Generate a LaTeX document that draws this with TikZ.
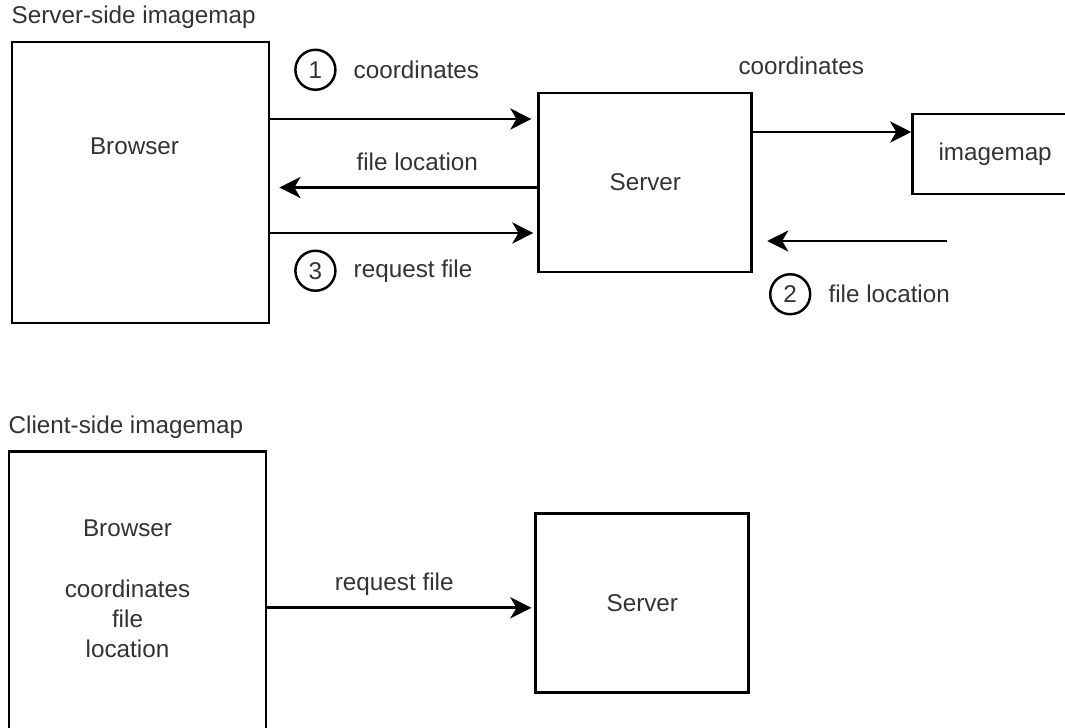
\documentclass[tikz,border=0pt]{standalone}
\usepackage{fontspec}
\setmainfont{Liberation Sans}
\usetikzlibrary{arrows.meta, positioning}

\begin{document}
\begin{tikzpicture}[
        >=Stealth,
        every node/.style={font=\fontsize{13.8pt}{17.3pt}\selectfont, text=black!80},
        box/.style={draw, line width=1.6pt, align=center},
        browserbox/.style={box, minimum width=5.14cm, minimum height=5.62cm},
        serverbox/.style={box, minimum width=4.26cm, minimum height=3.58cm},
        mapbox/.style={box, minimum width=3.3cm, minimum height=1.6cm},
        num/.style={circle, draw, line width=1.4pt, minimum size=0.8cm, inner sep=0pt},
        txt/.style={inner sep=1pt, align=center},
        arr/.style={-{Stealth[length=12pt, width=12pt, inset=3.5pt]}, line width=1.6pt},
    ]

    \clip (0,0) rectangle (21.3,-14.54);

    %% ===== Server-side imagemap =====
    \node[browserbox] (browser1) at (2.81,-3.65) {};
    \node[txt, above right=0.2cm and -0.02cm of browser1.north west] (title1) {Server-side imagemap};
    \node[txt, below=1.9cm of browser1.north, xshift=-0.12cm] (btext1) {Browser};

    \node[serverbox, right=5.34cm of browser1] (server1) {Server};
    \node[mapbox, right=3.16cm of server1, yshift=0.57cm] (imagemap) {imagemap};

    %% Step 1: coordinates
    \coordinate[above=1.27cm of browser1.east] (c1);
    \draw[arr, shorten >=0.12cm] (c1) -- (c1 -| server1.west);
    \node[num, above=0.56cm of c1, xshift=0.9cm] (n1) {1};
    \node[txt, right=0.3cm of n1] (lbl1) {coordinates};

    %% file location back to browser
    \coordinate[below=0.1cm of server1.west] (c2);
    \draw[arr, shorten >=0.18cm] (c2) -- (c2 -| browser1.east)
        node[txt, pos=0.45, above=0.27cm] (lbl2) {file location};

    %% Step 3: request file
    \coordinate[below=1.01cm of browser1.east] (c3);
    \draw[arr, shorten >=0.08cm] (c3) -- (c3 -| server1.west);
    \node[num, below=0.33cm of c3, xshift=0.9cm] (n3) {3};
    \node[txt, right=0.3cm of n3] (lbl3) {request file};

    %% Server <-> imagemap
    \coordinate[above=1.01cm of server1.east] (c4);
    \draw[arr] (c4) -- (c4 -| imagemap.west);
    \node[txt, above=0.3cm of server1.north east, xshift=0.96cm] (lbl4) {coordinates};

    %% Step 2: file location
    \coordinate[below right=1.17cm and 3.88cm of server1.east] (c5);
    \draw[arr, shorten >=0.28cm] (c5) -- (c5 -| server1.east);
    \node[num, below=0.64cm of c5, xshift=-3.14cm] (n2) {2};
    \node[txt, right=0.3cm of n2] (lbl5) {file location};

    %% ===== Client-side imagemap =====
    \node[browserbox, below=2.52cm of browser1, xshift=-0.06cm] (browser2) {};
    \node[txt, above right=0.2cm and -0.02cm of browser2.north west] (title2) {Client-side imagemap};
    \node[txt, xshift=-0.2cm, yshift=0.07cm] (btext2) at (browser2) {Browser\\[\baselineskip]coordinates\\file\\location};

    \node[serverbox, right=5.34cm of browser2, yshift=-0.21cm] (server2) {Server};

    \coordinate[below=0.31cm of browser2.east] (c6);
    \draw[arr, shorten >=0.06cm] (c6) -- (c6 -| server2.west)
        node[txt, pos=0.475, above=0.18cm] (lbl6) {request file};

\end{tikzpicture}
\end{document}
